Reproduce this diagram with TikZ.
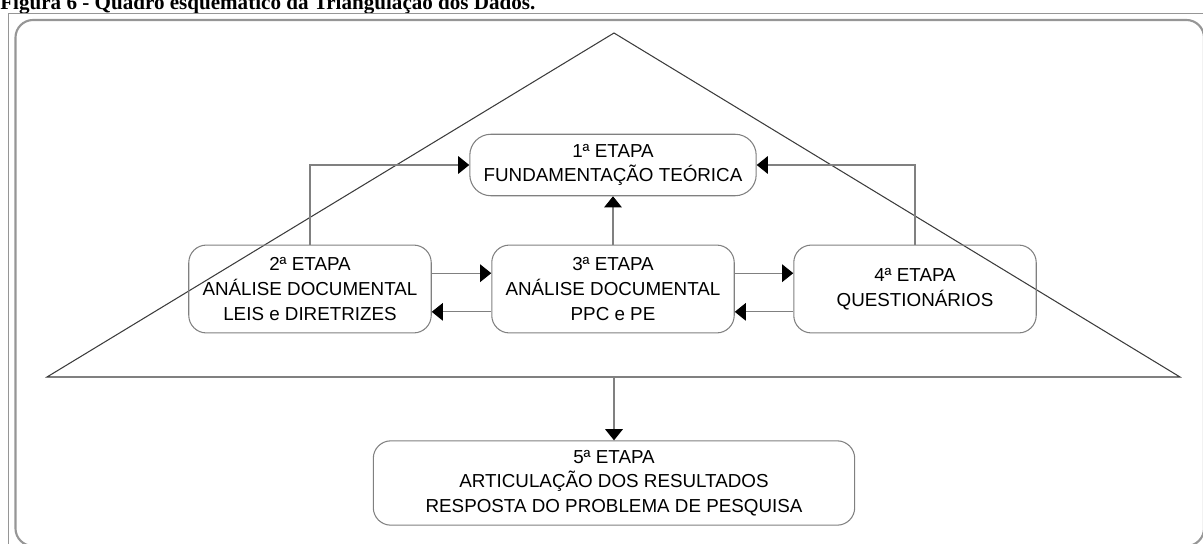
\documentclass[tikz,border=0pt]{standalone}
\usepackage{fontspec}
\setmainfont{Liberation Serif}
\setsansfont{Liberation Sans}
\usetikzlibrary{arrows.meta}
\definecolor{Frame}{RGB}{150,150,150}
\definecolor{Edge}{RGB}{128,128,128}
\definecolor{Roof}{RGB}{60,60,60}
\tikzset{
  etapa/.style={draw=Edge,line width=0.6pt,rounded corners=10pt,align=center,
    inner sep=0pt,font=\sffamily\fontsize{10.7}{14}\selectfont},
  elo/.style={draw=Edge,line width=0.6pt,-{Triangle[length=6.3pt,width=10pt,color=black]}},
}
\begin{document}
\begin{tikzpicture}[x=0.02cm,y=-0.02cm]
\useasboundingbox (0,0) rectangle (1203,544);
% caption, cut off by the page edge as in the source
\node[anchor=base west,inner sep=0pt,font=\bfseries\fontsize{12}{14}\selectfont] (titulo) at (0,9.5)
  {Figura 6 - Quadro esquemático da Triangulação dos Dados.};
% frames
\draw[Frame,line width=0.5pt] (8,560) -- (8,13) -- (1220,13);
\draw[Frame,line width=1.2pt,rounded corners=10pt] (15.5,20) rectangle (1204,546);
% triangle
\draw[Roof,line width=0.6pt] (614,33) -- (47,377) -- (1180,377) -- cycle;
\coordinate (base) at (614,377);
% stages
\node[etapa,minimum width=163pt,minimum height=35pt,rounded corners=12pt] (e1) at (613,165)
  {1ª ETAPA\\FUNDAMENTAÇÃO TEÓRICA};
\node[etapa,minimum width=138pt,minimum height=50pt] (e2) at (310,289)
  {2ª ETAPA\\ANÁLISE DOCUMENTAL\\LEIS e DIRETRIZES};
\node[etapa,minimum width=138pt,minimum height=50pt] (e3) at (613,289)
  {3ª ETAPA\\ANÁLISE DOCUMENTAL\\PPC e PE};
\node[etapa,minimum width=138pt,minimum height=50pt] (e4) at (915,289)
  {4ª ETAPA\\QUESTIONÁRIOS};
\node[etapa,minimum width=274pt,minimum height=48pt] (e5) at (614,483)
  {5ª ETAPA\\ARTICULAÇÃO DOS RESULTADOS\\RESPOSTA DO PROBLEMA DE PESQUISA};
% links
\draw[elo] (e2.north) |- (e1.west);
\draw[elo] (e4.north) |- (e1.east);
\draw[elo] (e3.north) -- (e1.south);
\draw[elo] ([yshift=9pt]e2.east) -- ([yshift=9pt]e3.west);
\draw[elo] ([yshift=-13pt]e3.west) -- ([yshift=-13pt]e2.east);
\draw[elo] ([yshift=9pt]e3.east) -- ([yshift=9pt]e4.west);
\draw[elo] ([yshift=-13pt]e4.west) -- ([yshift=-13pt]e3.east);
\draw[elo] (base) -- (e5.north);
\end{tikzpicture}
\end{document}
